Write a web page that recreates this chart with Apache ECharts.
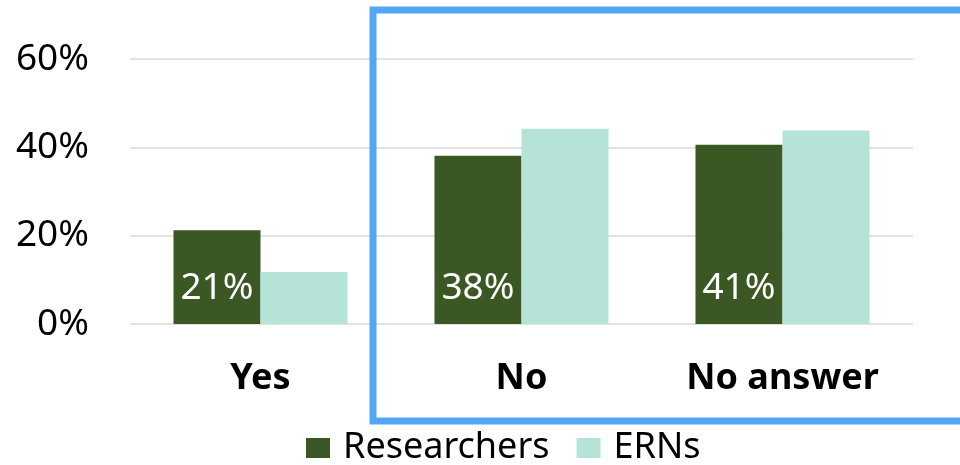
<!DOCTYPE html>
<html>
<head>
<meta charset="utf-8">
<script src="https://cdn.jsdelivr.net/npm/echarts@6/dist/echarts.min.js"></script>
<style>html,body{margin:0;padding:0;background:#fff;}#c{width:960px;height:465px;}</style>
</head>
<body>
<div id="c"></div>
<script>
const categories = ["Yes", "No", "No answer"];
const researchers = [21.2, 38.1, 40.6];
const erns = [11.8, 44.2, 43.8];
const yTicks = [0, 20, 40, 60];

const chart = echarts.init(document.getElementById('c'), null, {renderer: 'canvas'});
const font = '"Noto Sans", sans-serif';
chart.setOption({
  animation: false,
  grid: {left: 130, right: 47, top: 59, bottom: 141, containLabel: false},
  legend: {
    data: ["Researchers", "ERNs"],
    bottom: -6, left: 301,
    icon: 'rect', itemWidth: 24, itemHeight: 20, itemGap: 27,
    textStyle: {fontFamily: font, fontSize: 36, color: '#000', padding: [0, 0, 0, 8]}
  },
  xAxis: {
    type: 'category', data: categories,
    axisLine: {show: false}, axisTick: {show: false},
    axisLabel: {fontFamily: font, fontSize: 36, fontWeight: 'bold', color: '#000', margin: 37}
  },
  yAxis: {
    type: 'value', min: 0, max: 60, interval: 20,
    axisLine: {show: false}, axisTick: {show: false},
    splitLine: {lineStyle: {color: '#d9d9d9', width: 1.5}},
    axisLabel: {fontFamily: font, fontSize: 37, color: '#000', margin: 41, formatter: v => v + '%'}
  },
  series: [
    {
      name: "Researchers", type: 'bar', data: researchers, barGap: '0%', barCategoryGap: '33.33%',
      itemStyle: {color: '#3b5723'},
      label: {show: true, position: 'insideBottom', distance: 17, color: '#fff', fontFamily: font, fontSize: 37,
        formatter: p => Math.round(p.value) + '%'}
    },
    {
      name: "ERNs", type: 'bar', data: erns,
      itemStyle: {color: '#b5e3d8'}
    }
  ],
  graphic: [{
    type: 'rect', z: 100,
    shape: {x: 373, y: 10, width: 620, height: 411},
    style: {fill: 'none', stroke: '#52a7f4', lineWidth: 7}
  }]
});
</script>
</body>
</html>
